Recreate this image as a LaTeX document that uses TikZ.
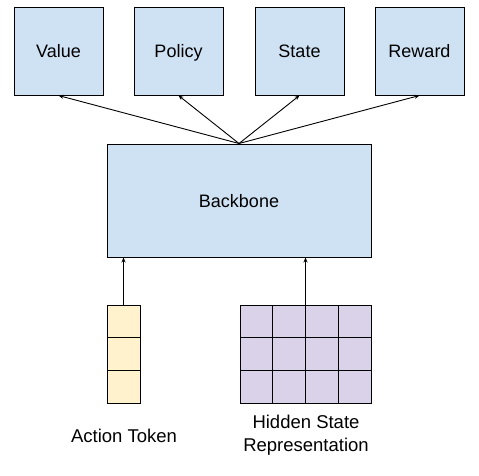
\documentclass[tikz,border=0pt]{standalone}
\usepackage{fontspec}
\setmainfont{Liberation Sans}
\usetikzlibrary{arrows.meta,positioning,calc}
\definecolor{Ink}{HTML}{000000}
\definecolor{BoxBlue}{HTML}{CFE2F3}
\definecolor{TokYellow}{HTML}{FFF2CC}
\definecolor{HidPurple}{HTML}{D9D2E9}

\tikzset{
  headbox/.style={draw=Ink,fill=BoxBlue,line width=1pt,minimum width=89pt,minimum height=88pt,inner sep=0pt,text height=13pt,text depth=0pt,font=\fontsize{18}{21}\selectfont},
  cellbox/.style={draw=Ink,line width=1pt,minimum width=32.75pt,minimum height=32.7pt,inner sep=0pt},
  feed/.style={-{Stealth[length=5pt,width=4pt]},Ink,line width=0.9pt},
  caption/.style={align=center,font=\fontsize{18.5}{23}\selectfont}
}

\begin{document}
\begin{tikzpicture}[x=1pt,y=-1pt]
\useasboundingbox (0,0) rectangle (479,475);
% output heads
\node[headbox] (value) at (58.5,51) {Value};
\node[headbox] (policy) at (178.5,51) {Policy};
\node[headbox] (state) at (299.5,51) {State};
\node[headbox] (reward) at (419.5,51) {Reward};
% backbone
\node[headbox,minimum width=264pt,minimum height=113pt] (bb) at (239,200.5) {Backbone};
% action token
\foreach \r in {1,2,3}
  \node[cellbox,fill=TokYellow,minimum width=33pt] (tok\r) at (123.5,{305+32.7*(\r-0.5)}) {};
% hidden state grid
\foreach \r in {1,2,3}
  \foreach \c in {1,2,3,4}
    \node[cellbox,fill=HidPurple] (hid\r\c) at ({240+32.75*(\c-0.5)},{305+32.7*(\r-0.5)}) {};
\coordinate (hidtop) at ($(hid12.north east)!0.5!(hid13.north west)$);
% connectors
\foreach \h in {value,policy,state,reward}
  \draw[feed] (bb.north) -- (\h.south);
\draw[feed] (tok1.north) -- (tok1.north |- bb.south);
\draw[feed] (hidtop) -- (hidtop |- bb.south);
% labels
\node[caption] (toklabel) at (124,436) {Action Token};
\node[caption] (hidlabel) at (306,435) {Hidden State\\Representation};
\end{tikzpicture}
\end{document}
